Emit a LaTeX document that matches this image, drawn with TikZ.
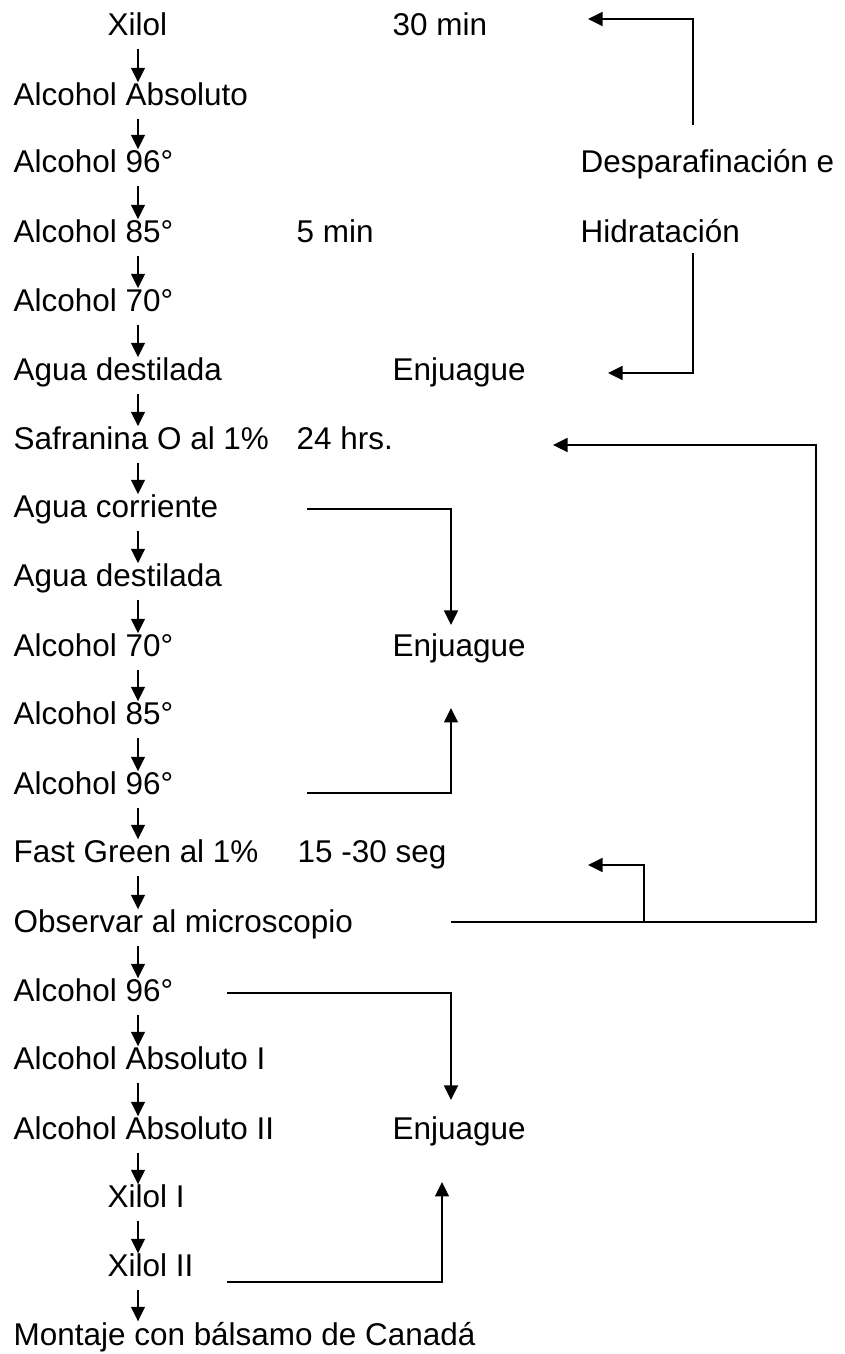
\documentclass[tikz,border=0pt]{standalone}
\usepackage{fontspec}
\setmainfont{Liberation Sans}
\usetikzlibrary{arrows.meta}

\begin{document}
\begin{tikzpicture}[>={Triangle[length=2.9mm,width=2.8mm]},line width=0.8pt,
  font=\fontsize{17.9}{21}\selectfont,
  paso/.style={anchor=base west,inner sep=0pt,text height=0.46cm,text depth=0.24cm}]
  \useasboundingbox (0,0) rectangle (16.9,27.08);
  \coordinate (eje) at (2.76,0);
  % pasos (columna izquierda)
  \node[paso] (p1)  at (2.14,26.36) {Xilol};
  \node[paso] (p2)  at (0.26,24.96) {Alcohol Absoluto};
  \node[paso] (p3)  at (0.26,23.62) {Alcohol 96°};
  \node[paso] (p4)  at (0.26,22.22) {Alcohol 85°};
  \node[paso] (p5)  at (0.26,20.84) {Alcohol 70°};
  \node[paso] (p6)  at (0.26,19.46) {Agua destilada};
  \node[paso] (p7)  at (0.26,18.08) {Safranina O al 1\%};
  \node[paso] (p8)  at (0.26,16.72) {Agua corriente};
  \node[paso] (p9)  at (0.26,15.34) {Agua destilada};
  \node[paso] (p10) at (0.26,13.94) {Alcohol 70°};
  \node[paso] (p11) at (0.26,12.58) {Alcohol 85°};
  \node[paso] (p12) at (0.26,11.18) {Alcohol 96°};
  \node[paso] (p13) at (0.26,9.82) {Fast Green al 1\%};
  \node[paso] (p14) at (0.26,8.42) {Observar al microscopio};
  \node[paso] (p15) at (0.26,7.04) {Alcohol 96°};
  \node[paso] (p16) at (0.26,5.68) {Alcohol Absoluto I};
  \node[paso] (p17) at (0.26,4.28) {Alcohol Absoluto II};
  \node[paso] (p18) at (2.14,2.92) {Xilol I};
  \node[paso] (p19) at (2.14,1.54) {Xilol II};
  \node[paso] (p20) at (0.26,0.18) {Montaje con bálsamo de Canadá};
  \foreach \i in {1,...,19}{
    \pgfmathtruncatemacro{\j}{\i+1}
    \draw[->] (p\i.south -| eje) -- (p\j.north -| eje);
  }
  % tiempos y notas
  \node[paso] (t30)   at (7.84,26.36) {30 min};
  \node[paso] (t5)    at (5.92,22.22) {5 min};
  \node[paso] (t24)   at (5.92,18.08) {24 hrs.};
  \node[paso] (t15)   at (5.94,9.82) {15 -30 seg};
  \node[paso] (despa) at (11.6,23.62) {Desparafinación e};
  \node[paso] (hidra) at (11.6,22.22) {Hidratación};
  \node[paso] (enj1)  at (7.84,19.46) {Enjuague};
  \node[paso] (enj2)  at (7.84,13.94) {Enjuague};
  \node[paso] (enj3)  at (7.84,4.28) {Enjuague};
  % desparafinacion e hidratacion
  \coordinate (d1) at (13.86,24.58);
  \coordinate (d1t) at (11.76,26.70);
  \coordinate (d2) at (13.86,22.02);
  \coordinate (d2t) at (12.16,19.62);
  \draw[->] (d1) |- (d1t);
  \draw[->] (d2) |- (d2t);
  % enjuague tras safranina
  \coordinate (e1) at (6.14,16.9);
  \coordinate (e1t) at (9.02,14.58);
  \coordinate (e2) at (6.14,11.22);
  \coordinate (e2t) at (9.02,12.92);
  \draw[->] (e1) -| (e1t);
  \draw[->] (e2) -| (e2t);
  % observar: volver a safranina o fast green
  \coordinate (o1) at (9.02,8.64);
  \coordinate (o2) at (16.32,8.64);
  \coordinate (o3) at (12.88,8.64);
  \coordinate (s1t) at (11.06,18.18);
  \coordinate (f1t) at (11.76,9.78);
  \draw[->] (o1) -- (o2) |- (s1t);
  \draw[->] (o3) |- (f1t);
  % enjuague final
  \coordinate (e3) at (4.54,7.22);
  \coordinate (e3t) at (9.02,5.08);
  \coordinate (e4) at (4.54,1.44);
  \coordinate (e4t) at (8.84,3.44);
  \draw[->] (e3) -| (e3t);
  \draw[->] (e4) -| (e4t);
\end{tikzpicture}
\end{document}
